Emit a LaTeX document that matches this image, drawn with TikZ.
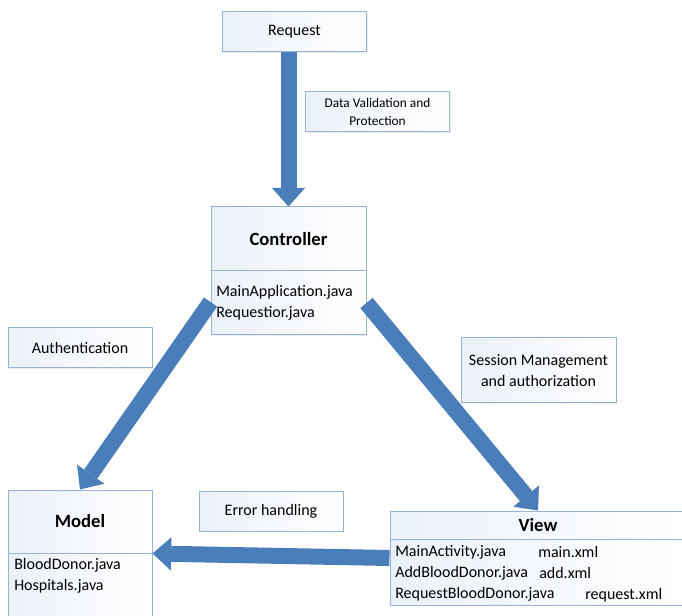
\documentclass[tikz,border=0pt]{standalone}
\usepackage{fontspec}
\setmainfont{Carlito}
\usetikzlibrary{arrows.meta,positioning,calc,shadows}
\definecolor{arrowblue}{HTML}{4A7EBB}
\definecolor{boxline}{HTML}{95B3D7}
\definecolor{boxtint}{HTML}{EBF1F9}

\begin{document}
\begin{tikzpicture}[x=0.75pt,y=-0.75pt,
  font=\fontsize{12}{16}\selectfont,
  box/.style={draw=boxline,line width=0.75pt,left color=boxtint,right color=white,align=center,inner sep=2pt,
    drop shadow={shadow xshift=0.8pt,shadow yshift=-0.8pt,opacity=0.15}},
  note/.style={box,minimum width=108pt,minimum height=30pt},
  title/.style={font=\fontsize{14}{16}\selectfont\bfseries},
  files/.style={align=left,inner sep=0pt,anchor=west},
  flow/.style={draw=arrowblue,line width=12pt,-{Triangle[length=14pt,width=25pt,line width=0pt]}}]
\useasboundingbox (0,0) rectangle (682,616);
\clip (0,0) rectangle (682,616);

% notes along the flow
\node[note] (request) at (294.5,32) {Request};
\node[note,font=\fontsize{10}{13.5}\selectfont] (validation) at (377.5,112) {Data Validation and\\Protection};
\node[note] (auth) at (80,348) {Authentication};
\node[note,minimum width=116.25pt,minimum height=48.75pt] (session) at (538.5,370.5) {Session Management\\and authorization};
\node[note] (errors) at (271,511) {Error handling};

% the three parts
\node[box,minimum width=116.25pt,minimum height=96pt] (controller) at (288.5,271) {};
\draw[boxline,line width=0.75pt] (controller.west) -- (controller.east);
\node[title] (controllertitle) at (288.5,239) {Controller};
\node[files] (controllerfiles) at (216,302.5) {MainApplication.java\\Requestior.java};

\node[box,minimum width=108pt,minimum height=95.25pt] (model) at (80,553.5) {};
\draw[boxline,line width=0.75pt] (model.west) -- (model.east);
\node[title] (modeltitle) at (80,521.5) {Model};
\node[files] (modelfiles) at (14,576) {BloodDonor.java\\Hospitals.java};

\node[box,minimum width=222pt,minimum height=70.5pt] (view) at (538,558) {};
\draw[boxline,line width=0.75pt] ($(view.north west)+(0,29)$) -- ($(view.north east)+(0,29)$);
\node[title] (viewtitle) at (538,525.5) {View};
\node[files] (viewfiles) at (395,573.5) {MainActivity.java\\AddBloodDonor.java\\RequestBloodDonor.java};
\node[files] (mainxml) at (538,552) {main.xml};
\node[files] (addxml) at (539,573.5) {add.xml};
\node[files] (requestxml) at (585,595) {request.xml};

% arrows
\draw[flow] (request.south -| controller.north) -- (controller.north);
\draw[flow] ($(controller.west)+(0,31)$) -- (model.north);
\draw[flow] ($(controller.east)+(0,32)$) -- (view.north);
\draw[flow] (view.west) -- (model.east);
\end{tikzpicture}
\end{document}
